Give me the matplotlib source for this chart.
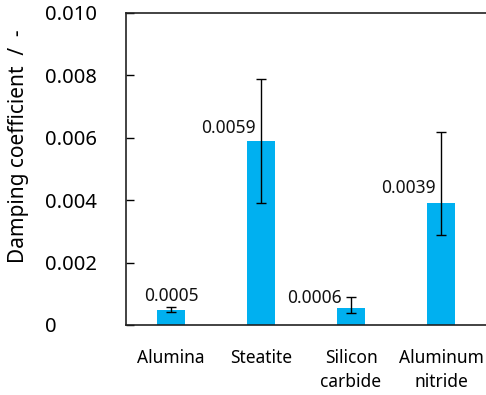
import matplotlib
matplotlib.use("Agg")
import matplotlib.pyplot as plt

plt.rcParams["font.family"] = ["Noto Sans", "DejaVu Sans"]

# --- data ---
materials = ["Alumina", "Steatite", "Silicon\ncarbide", "Aluminum\nnitride"]
damping = [0.00047, 0.0059, 0.00056, 0.0039]
err_low = [0.00006, 0.0020, 0.00019, 0.0010]
err_high = [0.00010, 0.0020, 0.00034, 0.0023]
y_ticks = [0, 0.002, 0.004, 0.006, 0.008, 0.010]
y_tick_labels = ["0", "0.002", "0.004", "0.006", "0.008", "0.010"]

# label placement (pixels from bar top), hand-tuned like the original
label_dx = [0, -5, -9, -5]
label_dy = [9, 8, 5, 10]
label_ha = ["center", "right", "right", "right"]

W, H = 486, 395
fig = plt.figure(figsize=(W / 100, H / 100), dpi=100)
ax = fig.add_axes([126 / W, 1 - 325 / H, 1 - 126 / W, (325 - 13) / H])

x = list(range(len(materials)))
ax.bar(x, damping, width=0.32, color="#00B0F0", zorder=2)
ax.errorbar(x, damping, yerr=[err_low, err_high], fmt="none",
            ecolor="black", elinewidth=1.0, capsize=3.5, capthick=1.0, zorder=3)

for i, v in enumerate(damping):
    ax.annotate(f"{v:.4f}", xy=(i, v), xytext=(label_dx[i], label_dy[i]),
                textcoords="offset pixels", ha=label_ha[i], va="baseline",
                fontsize=12.5, color="#111111")

ax.set_xlim(-0.5, len(materials) - 0.5)
ax.set_ylim(0, 0.010)
ax.set_xticks(x)
ax.set_xticklabels(materials, fontsize=12.5, linespacing=1.45)
ax.set_yticks(y_ticks)
ax.set_yticklabels(y_tick_labels, fontsize=14.5, ha="left")
ax.tick_params(axis="x", length=0, pad=17)
ax.tick_params(axis="y", direction="in", length=6, width=1, pad=58)

for side in ["left", "bottom", "top"]:
    ax.spines[side].set_linewidth(1.2)
    ax.spines[side].set_color("#222222")
ax.spines["right"].set_visible(False)

fig.text(19 / W, 1 - 146 / H, "Damping coefficient  /  -", rotation=90,
         ha="center", va="center", fontsize=15)

fig.savefig("out.png", dpi=100)
